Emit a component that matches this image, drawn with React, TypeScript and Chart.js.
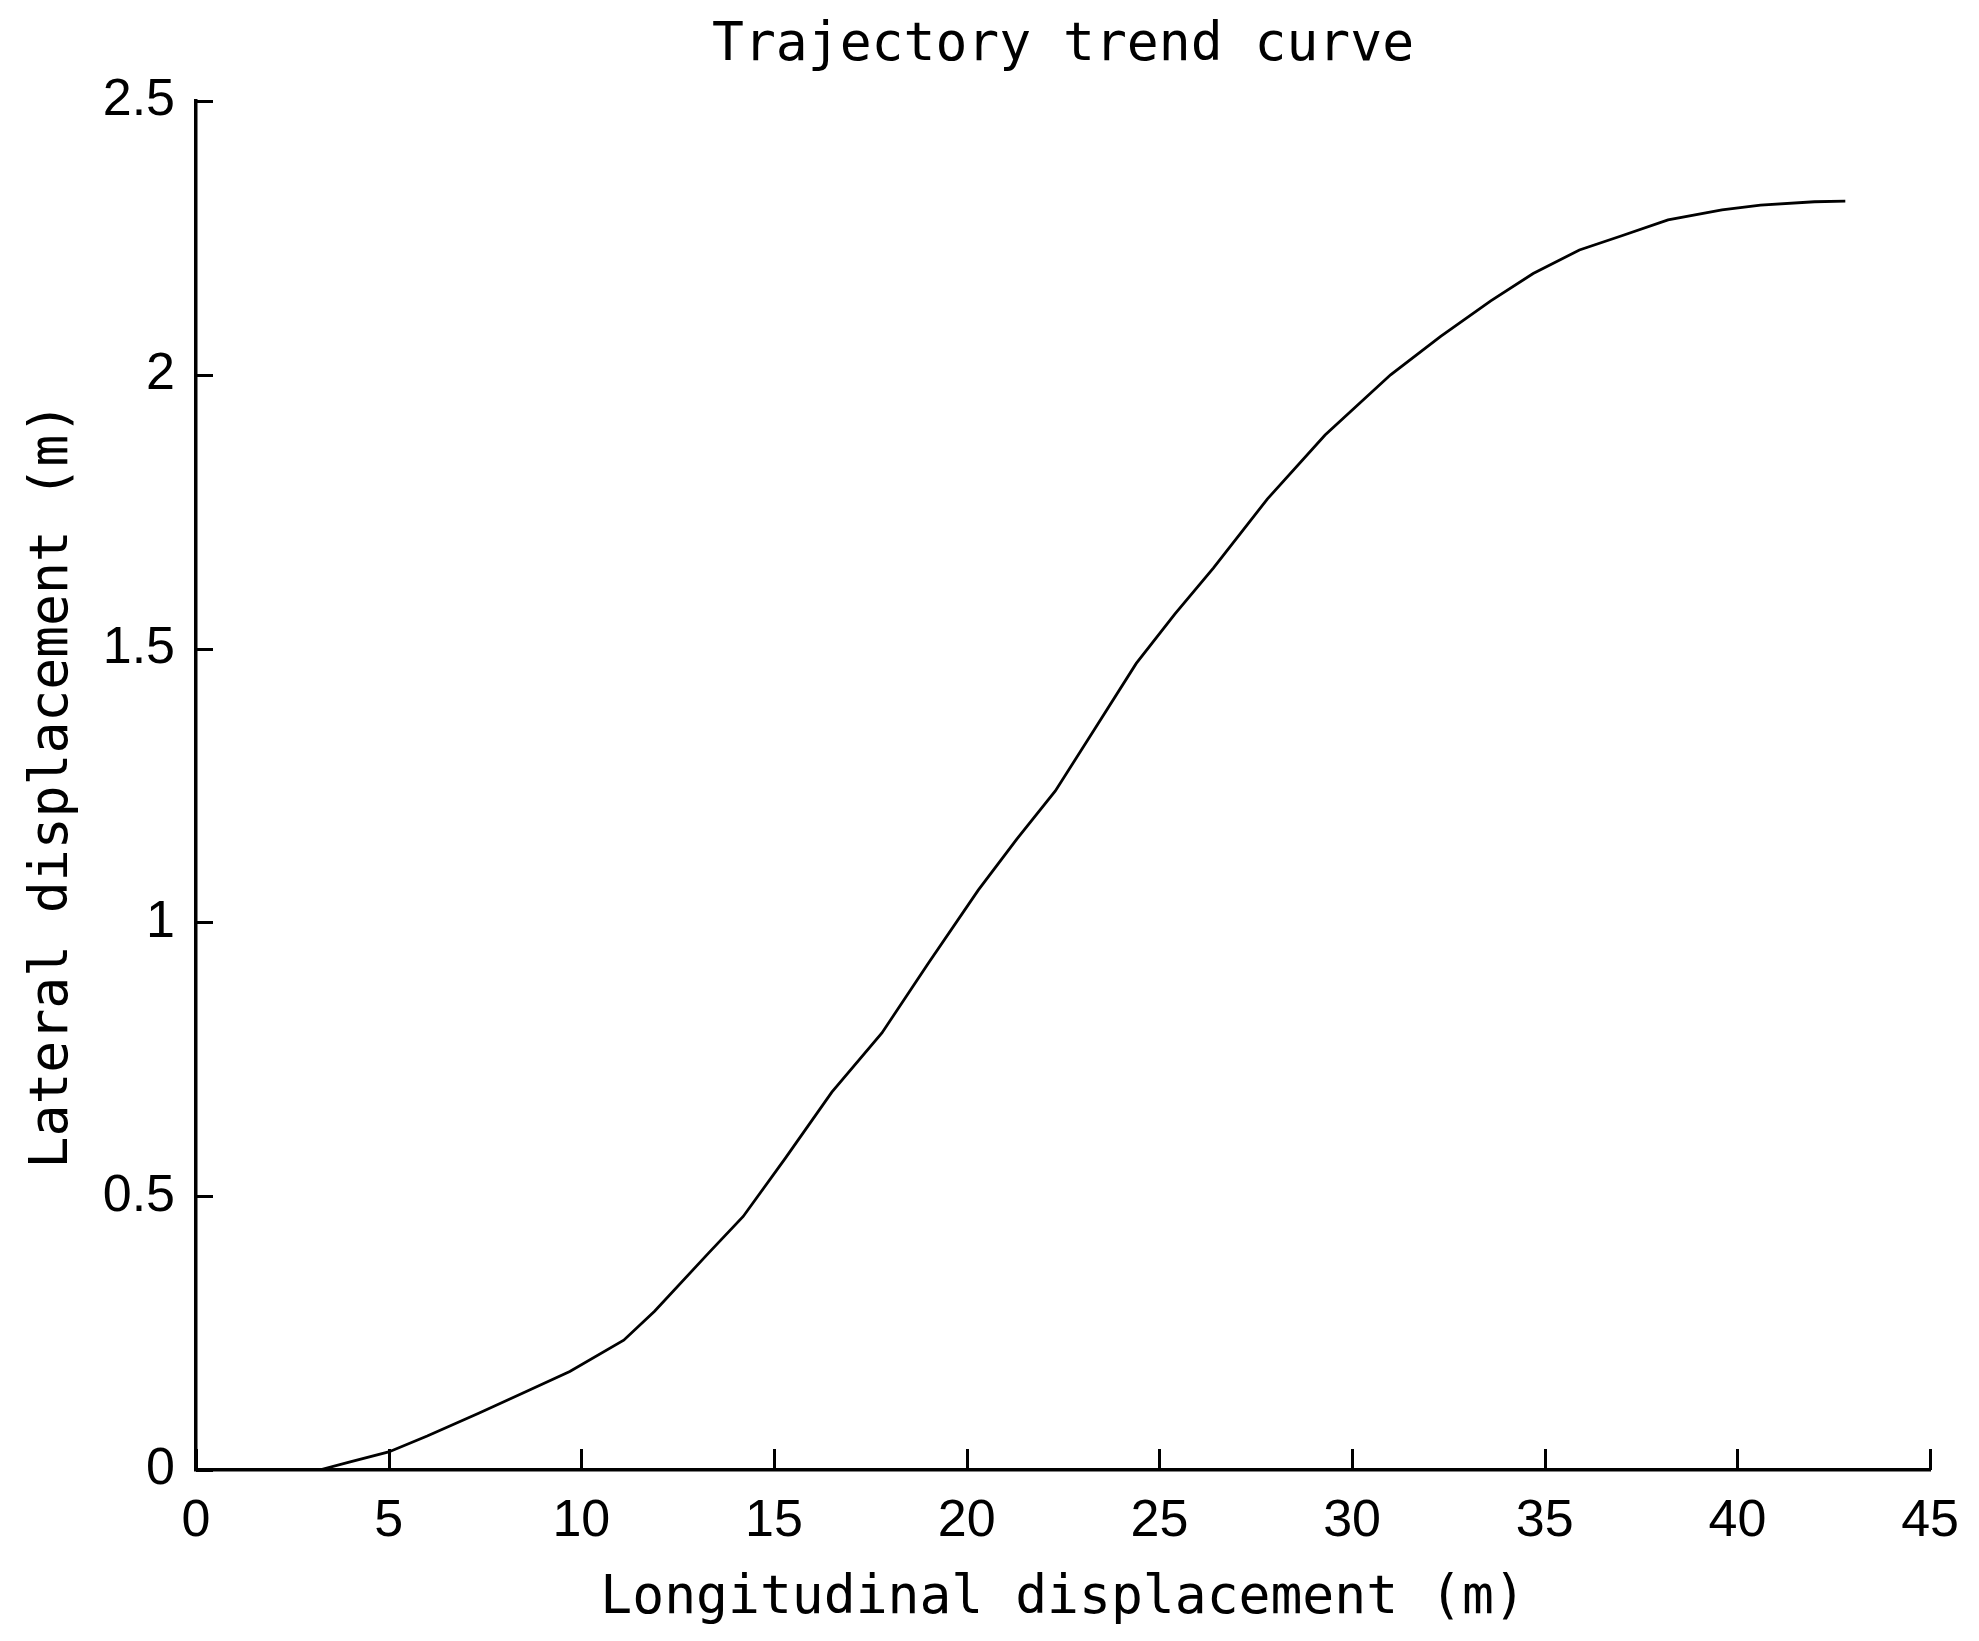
import React, { useEffect, useRef } from "react";
import { Chart, registerables } from "chart.js";

Chart.register(...registerables);

// Longitudinal displacement (m)
const xValues = [0, 3.2, 4.0, 5.0, 6.0, 7.35, 8.5, 9.7, 11.1, 11.9, 13.3, 14.2, 15.3, 16.5, 17.8, 19.0, 20.3, 21.3, 22.3, 23.4, 24.4, 25.4, 26.4, 27.8, 29.3, 31.0, 32.3, 33.6, 34.7, 35.9, 37.0, 38.2, 39.6, 40.6, 42.0, 42.8];
// Lateral displacement (m)
const yValues = [0, 0, 0.015, 0.033, 0.062, 0.104, 0.141, 0.18, 0.237, 0.29, 0.396, 0.463, 0.57, 0.69, 0.798, 0.925, 1.059, 1.152, 1.24, 1.362, 1.473, 1.563, 1.647, 1.773, 1.89, 2.0, 2.07, 2.135, 2.185, 2.228, 2.254, 2.283, 2.301, 2.31, 2.316, 2.317];

const titleText = "Trajectory trend curve";
const xLabel = "Longitudinal displacement (m)";
const yLabel = "Lateral displacement (m)";
const xTickMin = 0;
const xTickMax = 45;
const xTickStep = 5;
const yTickMin = 0;
const yTickMax = 2.5;
const yTickStep = 0.5;

const W = 1979;
const H = 1641;

const monoFont = "'DejaVu Sans Mono', 'Liberation Mono', monospace";
const tickFont = "'Liberation Sans Narrow', 'Liberation Sans', Arial, sans-serif";

const inwardTicks = {
  id: "inwardTicks",
  afterDraw(chart: any) {
    const { ctx, chartArea, scales } = chart;
    ctx.save();
    ctx.strokeStyle = "#000";
    ctx.lineWidth = 3;
    ctx.lineCap = "butt";
    const xs = scales.x;
    xs.ticks.forEach((t: any) => {
      const px = Math.round(xs.getPixelForValue(t.value)) + 0.5;
      ctx.beginPath();
      ctx.moveTo(px, chartArea.bottom);
      ctx.lineTo(px, chartArea.bottom - 21);
      ctx.stroke();
    });
    const ys = scales.y;
    ys.ticks.forEach((t: any) => {
      const py = Math.round(ys.getPixelForValue(t.value)) + 0.5;
      ctx.beginPath();
      ctx.moveTo(chartArea.left, py);
      ctx.lineTo(chartArea.left + 17, py);
      ctx.stroke();
    });
    ctx.restore();
  },
};

export default function App() {
  const canvasRef = useRef<HTMLCanvasElement | null>(null);

  useEffect(() => {
    const canvas = canvasRef.current;
    if (!canvas) return;
    const data = xValues.map((x, i) => ({ x, y: yValues[i] }));
    const chart = new Chart(canvas, {
      type: "line",
      data: {
        datasets: [
          {
            data,
            borderColor: "#000",
            borderWidth: 2.8,
            pointRadius: 0,
            tension: 0,
            fill: false,
          },
        ],
      },
      options: {
        animation: false,
        responsive: false,
        devicePixelRatio: 1,
        layout: { padding: { left: 0, right: 38, top: 0, bottom: 0 } },
        plugins: {
          legend: { display: false },
          tooltip: { enabled: false },
          title: {
            display: true,
            text: titleText,
            fullSize: false,
            color: "#000",
            font: { family: monoFont, size: 53, weight: "normal", lineHeight: 1.2 },
            padding: { top: 14, bottom: 23.4 },
          },
        },
        scales: {
          x: {
            type: "linear",
            min: xTickMin,
            max: xTickMax,
            afterFit: (s: any) => {
              s.height = H - 1470;
            },
            ticks: {
              stepSize: xTickStep,
              autoSkip: false,
              maxRotation: 0,
              padding: 20,
              color: "#000",
              font: { family: tickFont, size: 52 },
              callback: (v: any) => String(Number(v)),
            },
            grid: { display: false, drawTicks: false, tickLength: 0 },
            border: { display: true, color: "#000", width: 3.5 },
            title: {
              display: true,
              text: xLabel,
              color: "#000",
              font: { family: monoFont, size: 53, lineHeight: 1.2 },
              padding: { top: 0, bottom: 10 },
            },
          },
          y: {
            type: "linear",
            min: yTickMin,
            max: yTickMax,
            afterFit: (s: any) => {
              s.width = 196;
            },
            ticks: {
              stepSize: yTickStep,
              autoSkip: false,
              padding: 21,
              color: "#000",
              font: { family: tickFont, size: 52 },
              callback: (v: any) => String(Number(v)),
            },
            grid: { display: false, drawTicks: false, tickLength: 0 },
            border: { display: true, color: "#000", width: 3.5 },
            title: {
              display: true,
              text: yLabel,
              color: "#000",
              font: { family: monoFont, size: 53, lineHeight: 1.2 },
              padding: { top: 21, bottom: 0 },
            },
          },
        },
      },
      plugins: [inwardTicks],
    });
    return () => chart.destroy();
  }, []);

  return (
    <div style={{ position: "fixed", left: 0, top: 0, width: W, height: H, background: "#fff" }}>
      <canvas ref={canvasRef} width={W} height={H} style={{ width: W, height: H, display: "block" }} />
    </div>
  );
}
